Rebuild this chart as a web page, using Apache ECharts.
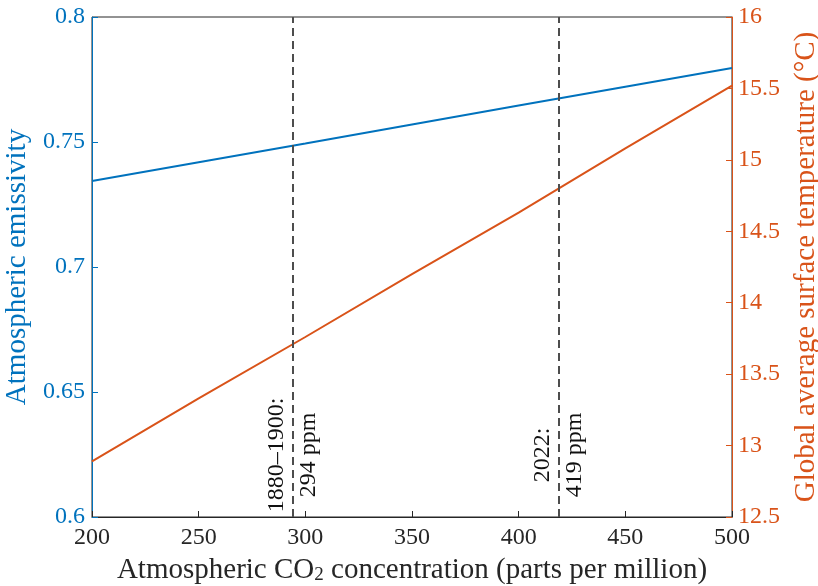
<!DOCTYPE html>
<html>
<head>
<meta charset="utf-8">
<script src="https://cdn.jsdelivr.net/npm/echarts@6/dist/echarts.min.js"></script>
<style>
    html, body { margin: 0; padding: 0; background: #fff; }
    #chart { width: 818px; height: 586px; }
</style>
</head>
<body>
<div id="chart"></div>
<script>
    // CO2 concentration (ppm)
    var co2 = [200, 250, 300, 350, 400, 450, 500];
    // atmospheric emissivity (left axis)
    var emissivity = [0.7344, 0.7419, 0.7494, 0.7570, 0.7646, 0.7721, 0.7796];
    // global average surface temperature, deg C (right axis)
    var temperature = [12.89, 13.33, 13.76, 14.20, 14.63, 15.08, 15.52];
    // reference years
    var markerPpm = [294, 419];
    var markerText = ['1880\u20131900:\n294 ppm', '2022:\n419 ppm'];

    var BLUE = '#0072BD';
    var ORANGE = '#D95319';
    var FONT = '"Liberation Serif", "DejaVu Serif", serif';

    var chart = echarts.init(document.getElementById('chart'));

    let option = {
        animation: false,
        grid: {
            left: 92,
            right: 86,
            top: 17,
            bottom: 69,
            containLabel: false,
            outerBoundsMode: 'none',
            show: true,
            borderColor: '#262626',
            borderWidth: 1
        },
        xAxis: {
            type: 'value',
            min: 200,
            max: 500,
            interval: 50,
            name: '{n|Atmospheric CO}{s|2}{n| concentration (parts per million)}',
            nameLocation: 'middle',
            nameGap: 38,
            nameTextStyle: {
                rich: {
                    n: { fontFamily: FONT, fontSize: 29, color: '#262626', lineHeight: 30, verticalAlign: 'bottom' },
                    s: { fontFamily: FONT, fontSize: 19, color: '#262626', lineHeight: 16, verticalAlign: 'bottom' }
                }
            },
            axisLine: { lineStyle: { color: '#262626', width: 1 } },
            axisTick: { inside: true, length: 6, lineStyle: { color: '#262626' } },
            axisLabel: { fontFamily: FONT, fontSize: 24, color: '#262626', margin: 9 },
            splitLine: { show: false }
        },
        yAxis: [
            {
                type: 'value',
                min: 0.6,
                max: 0.8,
                interval: 0.05,
                name: 'Atmospheric emissivity',
                nameLocation: 'middle',
                nameGap: 58,
                nameTextStyle: { fontFamily: FONT, fontSize: 29, color: BLUE },
                axisLine: { show: true, lineStyle: { color: BLUE, width: 1 } },
                axisTick: { show: true, inside: true, length: 6, lineStyle: { color: BLUE } },
                axisLabel: { fontFamily: FONT, fontSize: 24, color: BLUE, margin: 7 },
                splitLine: { show: false }
            },
            {
                type: 'value',
                min: 12.5,
                max: 16,
                interval: 0.5,
                position: 'right',
                name: 'Global average surface temperature (\u00b0C)',
                nameLocation: 'middle',
                nameGap: 60,
                nameRotate: 90,
                nameTextStyle: { fontFamily: FONT, fontSize: 29, color: ORANGE },
                axisLine: { show: true, lineStyle: { color: ORANGE, width: 1 } },
                axisTick: { show: true, inside: true, length: 6, lineStyle: { color: ORANGE } },
                axisLabel: { fontFamily: FONT, fontSize: 24, color: ORANGE, margin: 6 },
                splitLine: { show: false }
            }
        ],
        series: [
            {
                name: 'Emissivity',
                type: 'line',
                yAxisIndex: 0,
                data: co2.map(function (x, i) { return [x, emissivity[i]]; }),
                showSymbol: false,
                lineStyle: { color: BLUE, width: 2 },
                itemStyle: { color: BLUE },
                markLine: {
                    silent: true,
                    symbol: 'none',
                    label: { show: false },
                    lineStyle: { color: '#4d4d4d', width: 2, type: [8, 5] },
                    data: markerPpm.map(function (p) { return { xAxis: p }; })
                },
                z: 3
            },
            {
                name: 'Temperature',
                type: 'line',
                yAxisIndex: 1,
                data: co2.map(function (x, i) { return [x, temperature[i]]; }),
                showSymbol: false,
                lineStyle: { color: ORANGE, width: 2 },
                itemStyle: { color: ORANGE },
                z: 3
            }
        ]
    };
    chart.setOption(option);

    // rotated annotations, placed through the axis scales
    var graphics = markerPpm.map(function (p, i) {
        var pt = chart.convertToPixel({ xAxisIndex: 0, yAxisIndex: 0 }, [p, 0.6248]);
        return {
            type: 'text',
            x: pt[0],
            y: pt[1],
            rotation: Math.PI / 2,
            style: {
                text: markerText[i],
                fontFamily: FONT,
                fontSize: 24,
                lineHeight: 32,
                fill: '#111',
                align: 'center',
                verticalAlign: 'middle'
            },
            z: 10
        };
    });
    chart.setOption({ graphic: graphics });
</script>
</body>
</html>
